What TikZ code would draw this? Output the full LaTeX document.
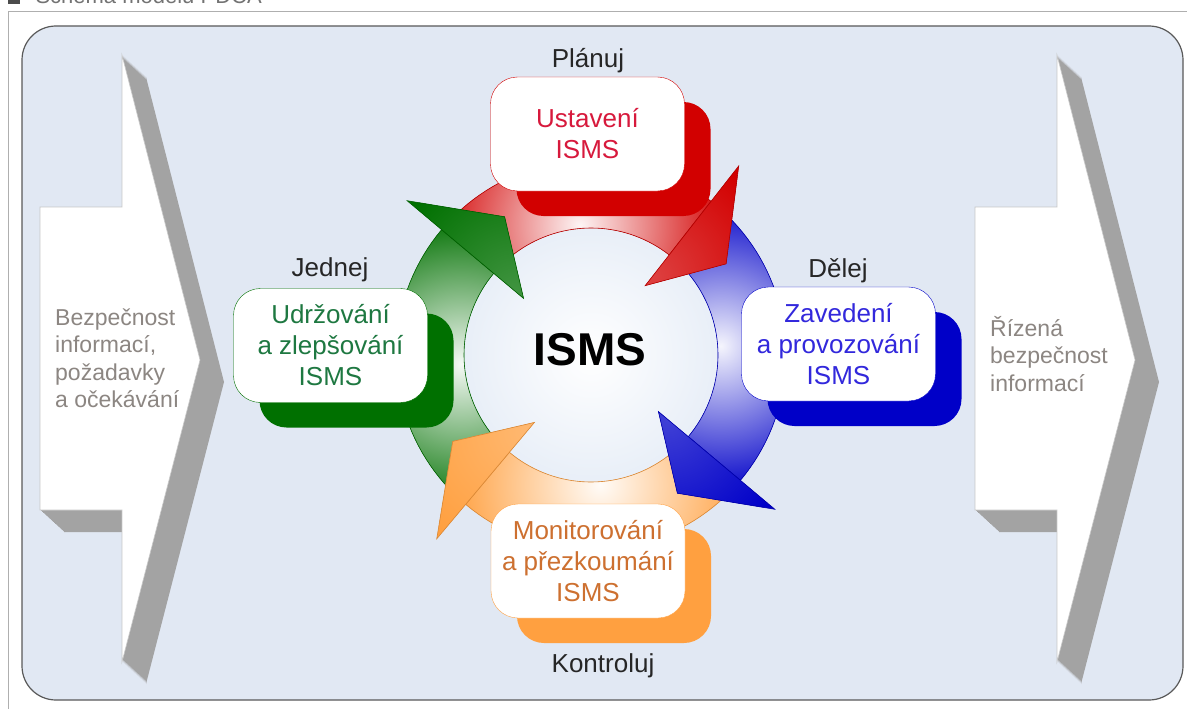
\documentclass[tikz,border=0pt]{standalone}
\usepackage{fontspec}
\setmainfont{Liberation Sans}
\usetikzlibrary{calc,shadows}
\definecolor{panelbg}{RGB}{225,232,243}
\definecolor{framegray}{RGB}{175,175,175}
\definecolor{arrowgray}{RGB}{163,163,163}
\definecolor{sidegray}{RGB}{140,134,130}
\definecolor{innerbg}{RGB}{212,224,241}
\definecolor{planred}{RGB}{210,0,0}
\definecolor{plantext}{RGB}{215,25,60}
\definecolor{doblue}{RGB}{0,0,200}
\definecolor{dotext}{RGB}{50,40,220}
\definecolor{checkorange}{RGB}{255,160,64}
\definecolor{checktext}{RGB}{205,112,48}
\definecolor{actgreen}{RGB}{0,112,0}
\definecolor{acttext}{RGB}{30,120,65}

\begin{document}
\begin{tikzpicture}[x=1pt,y=-1pt,
  phase/.style 2 args={draw=#1, fill=white, rounded corners=27pt, minimum width=194pt, minimum height=114pt, inner sep=0pt, align=center, text=#2, font=\fontsize{26}{31}\selectfont, drop shadow={shadow xshift=26pt, shadow yshift=-25pt, fill=#1, opacity=1}},
  stage/.style={anchor=base, text=black!85, font=\fontsize{26}{31}\selectfont},
  sidetext/.style={anchor=west, align=left, inner sep=0pt, text=sidegray, font=\fontsize{23}{27.5}\selectfont}]
\useasboundingbox (0,0) rectangle (1187,709);
\clip (0,0) rectangle (1187,709);

\fill[black!70] (8,-8) rectangle (20,4);
\node[anchor=base west, text=black!55, font=\fontsize{22}{26}\selectfont] (caption) at (32,4) {Schéma modelu PDCA};
\draw[framegray] (8,712) -- (8,11) -- (1190,11);
\draw[black!65, line width=1.2pt, fill=panelbg, rounded corners=34pt] (22,26) rectangle (1183,700);

\foreach \dx in {0,935}{
  \foreach \k in {1,...,24}
    \fill[arrowgray, shift={({\dx+\k},{\k*22/24})}] (40,207) -- (122,207) -- (122,55) -- (200,360) -- (122,662) -- (122,510) -- (40,510) -- cycle;
  \filldraw[white, draw=black!22, line width=0.6pt, shift={(\dx,0)}] (40,207) -- (122,207) -- (122,55) -- (200,360) -- (122,662) -- (122,510) -- (40,510) -- cycle;
}
\node[sidetext] (vstup) at (55,358) {Bezpečnost\\informací,\\požadavky\\a očekávání};
\node[sidetext] (vystup) at (990,354) {Řízená\\bezpečnost\\informací};

\coordinate (c) at (591,355);
\path[fill=innerbg, path picture={\shade[inner color=white, outer color=innerbg] (c) circle (240);}] (c) circle (127);

\foreach \col/\s/\b in {planred/222/308, doblue/312/400, checkorange/402/490, actgreen/492/580}{
  \pgfmathsetmacro\m{(\s+\b)/2}
  \draw[\col!85!black, line width=0.6pt, fill=\col, path picture={\shade[inner color=\col!4!white, outer color=\col] ($(c)+(\m:130)$) circle (150);}]
    plot[domain=\s:\b, samples=40] ({591+195*cos(\x)},{355+195*sin(\x)})
    -- plot[domain=\b:\s, samples=40] ({591+127*cos(\x)},{355+127*sin(\x)}) -- cycle;
}
\foreach \col/\b in {planred/308, doblue/400, checkorange/490, actgreen/580}{
  \pgfmathsetmacro\t{\b+18}
  \draw[\col!85!black, line width=0.6pt, fill=\col, path picture={\shade[inner color=\col!75!white, outer color=\col] ($(c)+(\b:100)$) circle (130);}] ($(c)+(\b:240)$) -- ($(c)+(\t:163)$) -- ($(c)+(\b:88)$) -- cycle;
}

\node[phase={planred}{plantext}] (ustaveni) at (587.5,134) {Ustavení\\ISMS};
\node[phase={doblue}{dotext}] (zavedeni) at (838.5,344) {Zavedení\\a provozování\\ISMS};
\node[phase={checkorange}{checktext}] (monitorovani) at (588,561) {Monitorování\\a přezkoumání\\ISMS};
\node[phase={actgreen}{acttext}] (udrzovani) at (330.5,345.5) {Udržování\\a zlepšování\\ISMS};

\node[stage] (planuj) at (588,67) {Plánuj};
\node[stage] (delej) at (838,277) {Dělej};
\node[stage] (kontroluj) at (603,672) {Kontroluj};
\node[stage] (jednej) at (330,276) {Jednej};
\node[font=\fontsize{46}{50}\selectfont\bfseries] (isms) at (590,350) {ISMS};
\end{tikzpicture}
\end{document}
